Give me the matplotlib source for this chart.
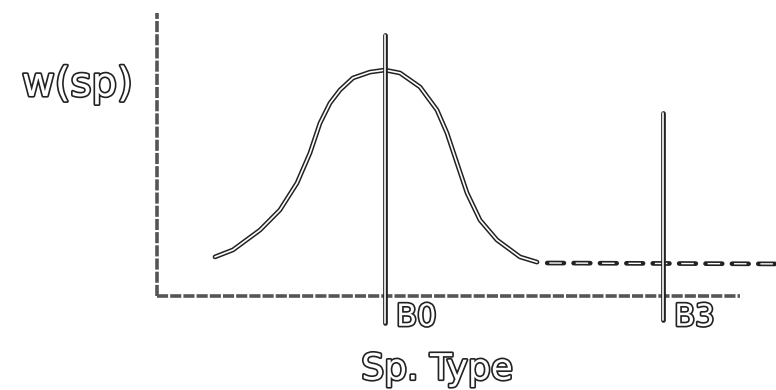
import matplotlib.pyplot as plt
import matplotlib.patheffects as pe

plt.rcParams['lines.scale_dashes'] = False

# hand-drawn sketch: w(sp) versus spectral type, B0 = 0, B3 = 3
curve_x = [-1.834, -1.640, -1.348, -1.133, -0.949, -0.809, -0.701, -0.593, -0.485, -0.345,
           -0.162, 0.0, 0.162, 0.378, 0.561, 0.669, 0.777, 0.885, 1.025, 1.208, 1.456, 1.640]
curve_y = [0.173, 0.204, 0.292, 0.381, 0.500, 0.633, 0.765, 0.854, 0.912, 0.965,
           0.991, 1.0, 0.987, 0.925, 0.823, 0.721, 0.588, 0.456, 0.336, 0.248, 0.173, 0.150]
tail_x = [1.75, 4.25]
tail_y = [0.146, 0.142]
marker_types = ['B0', 'B3']
marker_pos = [0.0, 3.0]
marker_top = [1.155, 0.81]
marker_bot = [-0.119, -0.106]


def sketch_line(ax, x, y):
    # outlined stroke, like an ink line copied badly
    ax.plot(x, y, color='#222222', lw=3.4, solid_capstyle='round', solid_joinstyle='round')
    ax.plot(x, y, color='white', lw=1.2, solid_capstyle='round', solid_joinstyle='round')


fig = plt.figure(figsize=(7.76, 3.9), dpi=100)
ax = fig.add_axes([0, 0, 1, 1])
ax.set_xlim(-4.153, 4.218)
ax.set_ylim(-0.416, 1.310)
ax.axis('off')

# axes of the sketch
ax.plot([-2.459, -2.459], [0, 1.252], color='#555555', lw=2.6, ls=(0, (8, 1.5)))
ax.plot([-2.459, 3.83], [0, 0], color='#555555', lw=2.6, ls=(0, (8, 1.5)))

# curve with dashed tail
sketch_line(ax, curve_x, curve_y)
ax.plot(tail_x, tail_y, color='#222222', lw=3.4, ls=(0, (12, 7)), dash_capstyle='round')
ax.plot(tail_x, tail_y, color='white', lw=1.0, ls=(17.5, (9, 10)))

# vertical markers with labels
outline = [pe.withStroke(linewidth=2.4, foreground='#222222')]
for pos, top, bot, lab in zip(marker_pos, marker_top, marker_bot, marker_types):
    sketch_line(ax, [pos, pos], [bot, top])
    ax.text(pos + 0.12, -0.03, lab, ha='left', va='top', fontsize=22,
            color='white', path_effects=outline)

ax.text(-3.32, 0.934, 'w(sp)', ha='center', va='center', fontsize=29,
        color='white', path_effects=outline)
ax.text(0.561, -0.325, 'Sp. Type', ha='center', va='center', fontsize=26,
        color='white', path_effects=outline)

fig.savefig('out.png', dpi=100)
